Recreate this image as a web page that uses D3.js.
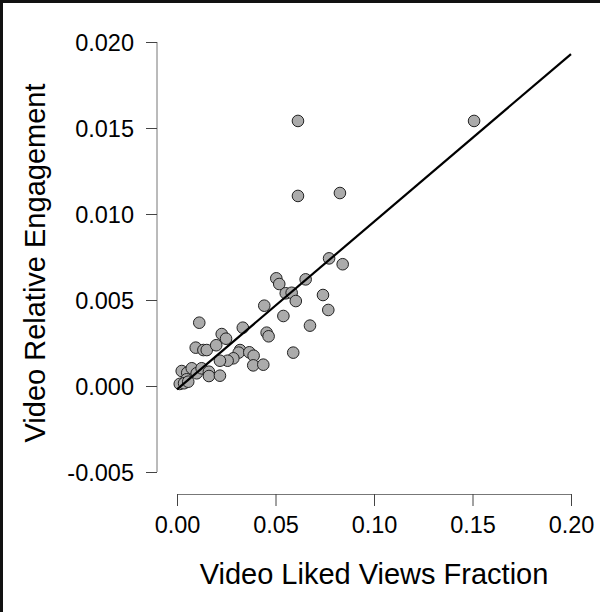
<!DOCTYPE html>
<html>
<head>
<meta charset="utf-8">
<script src="https://cdn.jsdelivr.net/npm/d3@7"></script>
<style>
  html, body { margin: 0; padding: 0; background: #fff; }
  svg { display: block; }
  text { font-family: "Liberation Sans", Arial, sans-serif; fill: #000; }
</style>
</head>
<body>
<div id="chart"></div>
<script>
// ---- data ----
const likedViewsFraction = [
  0.1508, 0.0614, 0.0614, 0.0827, 0.0772, 0.0841, 0.0504, 0.0519, 0.0653, 0.0552,
  0.0582, 0.0603, 0.0741, 0.0768, 0.0443, 0.0540, 0.0675, 0.0590, 0.0455, 0.0465,
  0.0334, 0.0113, 0.0227, 0.0249, 0.0095, 0.0134, 0.0151, 0.0199, 0.0320, 0.0313,
  0.0367, 0.0389, 0.0286, 0.0257, 0.0218, 0.0387, 0.0438, 0.0024, 0.0052, 0.0075,
  0.0100, 0.0125, 0.0162, 0.0162, 0.0218, 0.0049, 0.0014, 0.0036, 0.0057
];
const relativeEngagement = [
  0.01541, 0.01541, 0.01105, 0.01122, 0.00742, 0.00708, 0.00626, 0.00593, 0.00620, 0.00539,
  0.00542, 0.00494, 0.00529, 0.00442, 0.00467, 0.00407, 0.00351, 0.00194, 0.00310, 0.00289,
  0.00339, 0.00368, 0.00302, 0.00275, 0.00223, 0.00209, 0.00209, 0.00237, 0.00209, 0.00194,
  0.00196, 0.00176, 0.00161, 0.00147, 0.00147, 0.00120, 0.00124, 0.00087, 0.00077, 0.00103,
  0.00074, 0.00103, 0.00083, 0.00058, 0.00060, 0.00039, 0.00012, 0.00016, 0.00025
];
const fitIntercept = -0.0002;
const fitSlope = 0.0975;
const fitRange = [0, 0.2];

const xTicks = [0, 0.05, 0.10, 0.15, 0.20];
const xTickLabels = ["0.00", "0.05", "0.10", "0.15", "0.20"];
const yTicks = [-0.005, 0, 0.005, 0.010, 0.015, 0.020];
const yTickLabels = ["-0.005", "0.000", "0.005", "0.010", "0.015", "0.020"];

const xTitle = "Video Liked Views Fraction";
const yTitle = "Video Relative Engagement";

// ---- layout ----
const W = 600, H = 612;
const svg = d3.select("#chart").append("svg").attr("width", W).attr("height", H);
svg.append("rect").attr("width", W).attr("height", H).attr("fill", "#fff");

const x = d3.scaleLinear().domain([0, 0.2]).range([177, 571]);
const y = d3.scaleLinear().domain([-0.005, 0.020]).range([472, 42]);

// frame (left & top edges visible)
svg.append("rect").attr("x", 0).attr("y", 0).attr("width", 3).attr("height", H).attr("fill", "#111");
svg.append("rect").attr("x", 0).attr("y", 0).attr("width", W).attr("height", 3).attr("fill", "#111");

// y axis
const yAxisX = 157;
const yAxis = d3.axisLeft(y).tickValues(yTicks)
  .tickFormat((d, i) => yTickLabels[i]).tickSize(11).tickPadding(12);
const gy = svg.append("g").attr("transform", `translate(${yAxisX},0)`).call(yAxis);
gy.select(".domain").attr("stroke", "#777").attr("d", `M-0.5,${y(-0.005)}V${y(0.020)}`).attr("transform", "translate(0.5,0)");
gy.selectAll(".tick line").attr("stroke", "#444");
gy.selectAll(".tick text").style("font-size", "23.5px").attr("dy", "0.35em")
  .style("font-family", '"Liberation Sans", Arial, sans-serif').attr("fill", "#000");

// x axis
const xAxisY = 494;
const xAxis = d3.axisBottom(x).tickValues(xTicks)
  .tickFormat((d, i) => xTickLabels[i]).tickSize(12).tickPadding(10);
const gx = svg.append("g").attr("transform", `translate(0,${xAxisY})`).call(xAxis);
gx.select(".domain").attr("stroke", "#777").attr("d", `M${x(0)},0.5H${x(0.2)}`);
gx.selectAll(".tick line").attr("stroke", "#444");
gx.selectAll(".tick text").style("font-size", "23.5px")
  .style("font-family", '"Liberation Sans", Arial, sans-serif').attr("fill", "#000");

// points
const pts = likedViewsFraction.map((v, i) => ({ x: v, y: relativeEngagement[i] }));
svg.append("g").selectAll("circle").data(pts).join("circle")
  .attr("cx", d => x(d.x)).attr("cy", d => y(d.y)).attr("r", 5.8)
  .attr("fill", "#ababab").attr("stroke", "#222").attr("stroke-width", 1);

// regression line
const fitLine = d3.line().x(d => x(d)).y(d => y(fitIntercept + fitSlope * d));
svg.append("path").datum(fitRange).attr("d", fitLine)
  .attr("fill", "none").attr("stroke", "#000").attr("stroke-width", 2.2);

// titles
svg.append("text").attr("x", (x(0) + x(0.2)) / 2).attr("y", 584)
  .attr("text-anchor", "middle").style("font-size", "29px").text(xTitle);
svg.append("text").attr("transform", "translate(45,263) rotate(-90)")
  .attr("text-anchor", "middle").style("font-size", "29px").text(yTitle);
</script>
</body>
</html>
